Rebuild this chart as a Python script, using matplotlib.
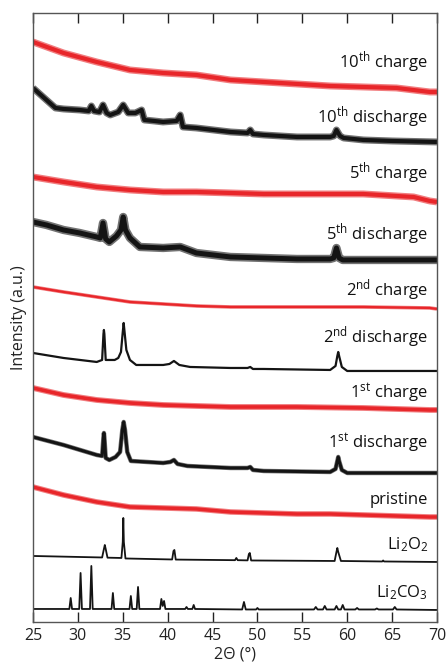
import numpy as np
import matplotlib
matplotlib.use("Agg")
import matplotlib.pyplot as plt

plt.rcParams["font.family"] = ["Open Sans", "DejaVu Sans"]
plt.rcParams["mathtext.fontset"] = "custom"
plt.rcParams["mathtext.rm"] = "Open Sans"
plt.rcParams["mathtext.it"] = "Open Sans"

RED = "#e8262a"
BLACK = "#141414"

# 2θ positions and stacked intensities (a.u.)
charge10_x = [25, 28.4, 32.1, 35.8, 39.5, 43.2, 47, 50.7, 54.4, 58.1, 61.8, 65.5, 69.2, 70]
charge10_y = [580, 569, 560, 552, 549, 547, 542, 540, 538, 536, 535, 534, 530, 530]

discharge10_x = [25, 26.5, 27.5, 28.4, 30.2, 31.2, 31.5, 31.8, 32.4, 32.8, 33.2, 33.6, 34.5, 35.05,
                 35.6, 36.4, 37.1, 37.4, 38.5, 39.5, 41.0, 41.4, 41.7, 43.2, 47, 48.9, 49.2, 49.5,
                 50.7, 54.4, 58.1, 58.5, 58.8, 59.2, 59.6, 61.8, 65, 70]
discharge10_y = [534, 522, 514, 513, 512, 511, 516, 511, 510, 517, 509, 507, 510, 517,
                 509, 509, 512, 502, 501, 500, 501, 507, 495, 494, 490, 489, 492, 488,
                 487, 485, 485, 486, 492, 486, 484, 482, 481, 480]

charge5_x = [25, 28.4, 32.1, 35.8, 39.5, 43.2, 47, 50.7, 54.4, 58.1, 61.8, 65.5, 67.4, 69.2, 70]
charge5_y = [445, 440, 435, 432, 430, 430, 429, 428, 428, 428, 428, 426, 425, 421, 420]

discharge5_x = [25, 26.5, 28.4, 30.2, 32.1, 32.5, 32.8, 33.1, 33.5, 34.3, 34.8, 35.05, 35.3,
                35.8, 36.9, 39.5, 41.4, 43.2, 47, 50.7, 54.4, 58.1, 58.5, 58.8, 59.1, 59.5, 62, 70]
discharge5_y = [400, 397, 392, 389, 385, 384, 399, 383, 380, 386, 392, 405, 392,
                384, 375, 374, 375, 369, 365, 364, 363, 363, 364, 374, 364, 362, 362, 362]

charge2_x = [25, 28.4, 32.1, 35.8, 39.5, 43.2, 47, 54.4, 61.8, 69.2, 70]
charge2_y = [335, 330, 325, 320, 318, 316, 315, 315, 315, 314, 313]

discharge2_x = [25, 28.4, 32.1, 32.7, 32.85, 32.9, 32.95, 33.1, 34.1, 34.5, 34.8, 35.0, 35.1,
                35.2, 35.4, 35.8, 36.5, 39.5, 40.2, 40.7, 41.3, 42.5, 47, 48.9, 49.2, 49.5,
                50.7, 58.1, 58.7, 58.9, 59.0, 59.1, 59.4, 60, 70]
discharge2_y = [269, 264, 260, 262, 288, 292, 288, 262, 262, 264, 270, 290, 299,
                290, 272, 262, 257, 257, 258, 261, 257, 255, 254, 254, 255, 253,
                253, 252, 256, 266, 270, 266, 255, 251, 251]

charge1_x = [25, 28.4, 32.1, 35.8, 39.5, 43.2, 47, 54.4, 61.8, 69.2, 70]
charge1_y = [234, 227, 222, 219, 217, 216, 215, 215, 214, 212, 212]

discharge1_x = [25, 28.4, 32.1, 32.7, 32.85, 32.9, 32.95, 33.1, 33.5, 34.2, 34.7, 34.95, 35.1,
                35.25, 35.5, 35.9, 39.5, 40.3, 40.7, 41.1, 42.2, 47, 48.9, 49.2, 49.5, 50.7,
                58.1, 58.7, 58.9, 59.0, 59.1, 59.4, 60, 70]
discharge1_y = [185, 177, 167, 166, 185, 189, 185, 164, 162, 165, 170, 192, 200,
                192, 170, 161, 159, 160, 162, 158, 156, 154, 154, 155, 152, 151,
                150, 153, 161, 165, 161, 152, 149, 149]

pristine_x = [25, 28.4, 32.1, 35.8, 39.5, 43.2, 47, 50.7, 54.4, 58.1, 61.8, 69.2, 70]
pristine_y = [135, 127, 120, 115, 114, 113, 110, 109, 108, 108, 107, 105, 105]

li2o2_x = [25, 32.7, 32.9, 33.0, 33.1, 33.3, 34.85, 35.0, 35.06, 35.12, 35.3, 40.5, 40.65,
           40.75, 40.9, 47.5, 47.65, 47.8, 48.9, 49.05, 49.15, 49.3, 58.6, 58.8, 58.9, 59.0,
           59.3, 63.9, 64.0, 64.1, 70]
li2o2_y = [66, 64.5, 73, 77, 73, 64.3, 64, 80, 104, 80, 63.5, 62.5, 71,
           72, 62.4, 61.8, 64, 61.8, 61.6, 68, 69, 61.5, 61, 70, 74, 70,
           61, 60.5, 61.5, 60.5, 60]

li2co3_x = [25, 29.05, 29.2, 29.35, 30.15, 30.3, 30.45, 31.35, 31.5, 31.65, 33.75, 33.9, 34.05,
            35.75, 35.9, 36.05, 36.55, 36.7, 36.85, 39.15, 39.3, 39.45, 39.6, 39.75, 41.95, 42.1,
            42.25, 42.75, 42.9, 43.05, 48.3, 48.5, 48.7, 49.85, 50.0, 50.15, 56.3, 56.5, 56.7,
            57.3, 57.5, 57.7, 58.6, 58.8, 59.0, 59.3, 59.5, 59.7, 60.9, 61.1, 61.3, 63.1, 63.3,
            63.5, 65.1, 65.3, 65.5, 70]
li2co3_y = [13, 13, 24, 13, 13, 49, 13, 13, 56, 13, 13, 29, 13,
            13, 26, 13, 13, 35, 13, 13, 23, 16, 21, 13, 13, 15,
            13, 13, 17, 13, 12.5, 20, 12.5, 12.5, 14, 12.5, 12.5, 15, 12.5,
            12.5, 16, 12.5, 12.5, 16, 12.5, 12.5, 17, 12.5, 12.5, 14, 12.5, 12.5, 13.5,
            12.5, 12.5, 15, 12.5, 12]

# label text and its height on the intensity scale
labels = [r"10$^{\rm th}$ charge", r"10$^{\rm th}$ discharge", r"5$^{\rm th}$ charge",
          r"5$^{\rm th}$ discharge", r"2$^{\rm nd}$ charge", r"2$^{\rm nd}$ discharge",
          r"1$^{\rm st}$ charge", r"1$^{\rm st}$ discharge", "pristine",
          r"Li$_2$O$_2$", r"Li$_2$CO$_3$"]
label_y = [560, 505, 449, 388, 332, 285, 229, 179, 122, 77, 29]

xticks = [25, 30, 35, 40, 45, 50, 55, 60, 65, 70]

# (x, y, colour, band width of the noise, core width)
traces = [
    (charge10_x, charge10_y, RED, 5.0, 3.0),
    (discharge10_x, discharge10_y, BLACK, 5.0, 3.0),
    (charge5_x, charge5_y, RED, 5.0, 3.0),
    (discharge5_x, discharge5_y, BLACK, 6.0, 3.6),
    (charge2_x, charge2_y, RED, 2.6, 1.6),
    (discharge2_x, discharge2_y, BLACK, 0, 1.6),
    (charge1_x, charge1_y, RED, 4.2, 2.6),
    (discharge1_x, discharge1_y, BLACK, 3.2, 2.2),
    (pristine_x, pristine_y, RED, 4.0, 2.5),
    (li2o2_x, li2o2_y, BLACK, 0, 1.3),
    (li2co3_x, li2co3_y, BLACK, 0, 1.3),
]

fig = plt.figure(figsize=(4.47, 6.65), dpi=100)
ax = fig.add_axes([0.0738, 0.0647, 0.9038, 0.9158])

for x, y, c, band, core in traces:
    if band > 0:
        ax.plot(x, y, color=c, linewidth=band, alpha=0.6,
                solid_joinstyle="round", solid_capstyle="butt")
    ax.plot(x, y, color=c, linewidth=core, solid_joinstyle="round", solid_capstyle="butt")

for txt, yy in zip(labels, label_y):
    ax.text(69.0, yy, txt, ha="right", va="center", fontsize=12, color="#111111")

ax.set_xlim(25, 70)
ax.set_ylim(0, 609)
ax.set_xticks(xticks)
ax.set_yticks([])
ax.tick_params(axis="x", direction="in", length=7, width=1, top=True,
               labelsize=11.5, pad=4, colors="#222222")
for s in ax.spines.values():
    s.set_color("#555555")
    s.set_linewidth(1.0)

ax.set_xlabel("2Θ (°)", fontsize=11.5, color="#222222", labelpad=2)
ax.set_ylabel("Intensity (a.u.)", fontsize=11.5, color="#222222", labelpad=4)

fig.savefig("out.png", dpi=100)
